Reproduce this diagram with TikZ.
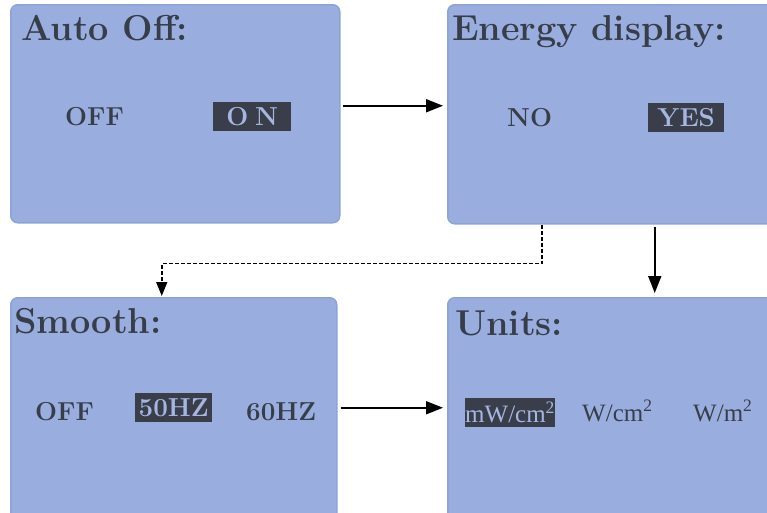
\documentclass[tikz,border=0pt]{standalone}
\usepackage{fontspec}
\newfontfamily\unitfont{Liberation Serif}
\usetikzlibrary{arrows.meta,calc}
\definecolor{lcd}{HTML}{99AEDE}
\definecolor{lcdedge}{HTML}{8DA3D6}
\definecolor{ink}{HTML}{383D4A}
\definecolor{hl}{HTML}{3A3E4B}
\definecolor{hltext}{HTML}{A5B7E0}
\begin{document}
\begin{tikzpicture}[x=1pt,y=-1pt,
  panel/.style={draw=lcdedge, line width=1.5pt, fill=lcd, rounded corners=7pt, inner sep=0pt, anchor=north west},
  title/.style={font=\fontsize{36}{40}\selectfont\bfseries, text=ink, inner sep=0pt, anchor=base west},
  opt/.style={font=\fontsize{26}{30}\selectfont\bfseries, text=ink, inner sep=0pt, anchor=base west},
  hlbox/.style={fill=hl, text=hltext, inner sep=0pt, anchor=north west},
  unit/.style={font=\unitfont\fontsize{25}{28}\selectfont, text=ink, inner sep=0pt, anchor=base west},
  arr/.style={draw=black, line width=1.8pt, -{Triangle[length=17pt,width=13pt]}},
  darr/.style={draw=black, line width=1.5pt, dash pattern=on 4pt off 2pt, -{Triangle[length=14pt,width=11pt]}}
]
\useasboundingbox (0,0) rectangle (767,512);
\clip (0,0) rectangle (767,512);

% panels
\node[panel, minimum width=329pt, minimum height=218pt] (b1) at (10,4) {};
\node[panel, minimum width=328pt, minimum height=219pt] (b2) at (447,4) {};
\node[panel, minimum width=326pt, minimum height=223pt] (b3) at (10,297) {};
\node[panel, minimum width=328pt, minimum height=223pt] (b4) at (447,297) {};

% titles
\node[title] (t1) at (21,40) {Auto Off:};
\node[title] (t2) at (452,40) {Energy display:};
\node[title] (t3) at (14,333) {Smooth:};
\node[title] (t4) at (455,335) {Units:};

% box 1 options
\node[opt] (o1) at (65,125) {OFF};
\node[hlbox, minimum width=78pt, minimum height=29pt, font=\fontsize{26}{30}\selectfont\bfseries] (o2) at (213,102) {O\hspace{7pt}N};

% box 2 options
\node[opt] (o3) at (507,126) {NO};
\node[hlbox, minimum width=76pt, minimum height=29pt, font=\fontsize{26}{30}\selectfont\bfseries] (o4) at (648,103) {YES};

% box 3 options
\node[opt] (o5) at (35,420) {OFF};
\node[hlbox, minimum width=77pt, minimum height=29pt, font=\fontsize{26}{30}\selectfont\bfseries] (o6) at (135,393) {50HZ};
\node[opt] (o7) at (246,420) {60HZ};

% box 4 options
\node[hlbox, minimum width=88pt, minimum height=29pt, font=\unitfont\fontsize{25}{28}\selectfont] (o8) at (465,398) {mW/cm\textsuperscript{2}};
\node[unit] (o9) at (582,421) {W/cm\textsuperscript{2}};
\node[unit] (o10) at (693,421) {W/m\textsuperscript{2}};

% connectors
\draw[arr, shorten <=2pt, shorten >=4pt] ([yshift=8pt]b1.east) -- ([yshift=8.5pt]b2.west);
\draw[arr, shorten <=3pt, shorten >=4pt] ([yshift=1.5pt]b3.east) -- ([yshift=1.5pt]b4.west);
\draw[arr, shorten <=2pt, shorten >=4pt] ([xshift=43pt]b2.south) -- ([xshift=43pt]b4.north);
\draw[darr, shorten >=1pt] ([xshift=-70pt]b2.south) -- ++(0,39) -| ([xshift=-12pt]b3.north);
\end{tikzpicture}
\end{document}
